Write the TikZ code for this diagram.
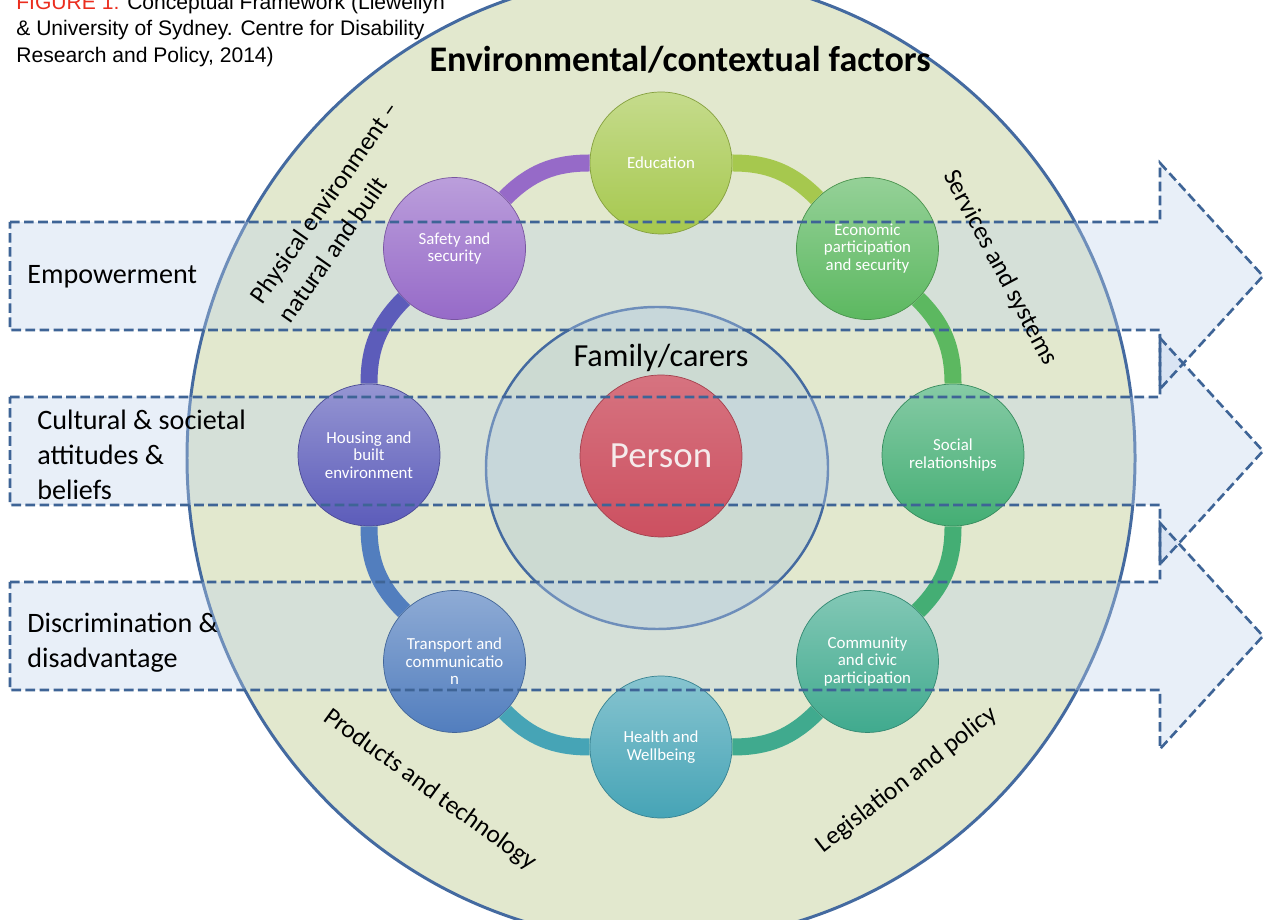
\documentclass[tikz,border=0pt]{standalone}
\usepackage{fontspec}
\setmainfont{Carlito}
\newfontfamily\capfont{Liberation Sans}
\usepackage{tikz}
\usetikzlibrary{positioning}
\definecolor{outerfill}{RGB}{226,232,206}
\definecolor{rimblue}{RGB}{68,106,160}
\definecolor{famfill}{RGB}{204,218,210}
\definecolor{bandblue}{RGB}{190,210,235}
\definecolor{dashblue}{RGB}{62,100,150}
\definecolor{figred}{RGB}{235,45,30}
\definecolor{cedu}{RGB}{166,200,78}
\definecolor{ceco}{RGB}{92,184,96}
\definecolor{csoc}{RGB}{68,174,116}
\definecolor{ccom}{RGB}{64,170,142}
\definecolor{chea}{RGB}{70,164,182}
\definecolor{ctra}{RGB}{82,126,190}
\definecolor{chou}{RGB}{92,92,186}
\definecolor{csaf}{RGB}{150,106,200}
\definecolor{cper}{RGB}{204,80,96}
\tikzset{
    topic/.style={
           circle,
           draw=#1!80!black, thin,
           top color=#1!65!white,
           bottom color=#1,
           minimum size=2.84cm,
           inner sep=1pt,
           text=white,
           align=center,
           font=\fontsize{9.6}{10}\selectfont,
           },
    link/.style={
           line width=0.34cm,
           bend left=22.5,
           },
    band/.style={
           draw=dashblue, line width=1.5pt,
           dash pattern=on 5.5pt off 2.5pt,
           },
    sidetext/.style={
           inner sep=0pt,
           align=left,
           font=\fontsize{16}{19.8}\selectfont,
           },
    rimtext/.style={
           inner sep=0pt,
           font=\fontsize{14.5}{19.5}\selectfont,
           },
}

\begin{document}
\begin{tikzpicture}[x=0.02cm,y=0.02cm]
	\useasboundingbox (0,0) rectangle (1266,919);
	\clip (0,0) rectangle (1266,919);
	\fill[white] (0,0) rectangle (1266,919);
	
	%outer and family circles
	\filldraw[fill=outerfill, draw=rimblue, line width=1.7pt] (661,461) ellipse [x radius=474, y radius=484];
	\filldraw[fill=famfill, draw=rimblue, line width=1.4pt] (657,451) ellipse [x radius=171, y radius=161];
	
	\foreach \yc in {643,468,283}
		\fill[bandblue, fill opacity=0.35] (10,\yc+54) -- (1160,\yc+54) -- (1160,\yc+113) -- (1263,\yc) -- (1160,\yc-113) -- (1160,\yc-54) -- (10,\yc-54) -- cycle;
	
	%ring of domains
	\begin{scope}[shift={(661,464)}]
	\node[topic=cedu] (edu) at (90:292) {Education};
	\node[topic=ceco] (eco) at (45:292) {Economic\\participation\\and security};
	\node[topic=csoc] (soc) at (0:292) {Social\\relationships};
	\node[topic=ccom] (com) at (-45:292) {Community\\and civic\\participation};
	\node[topic=chea] (hea) at (-90:292) {Health and\\Wellbeing};
	\node[topic=ctra] (tra) at (-135:292) {Transport and\\communicatio\\n};
	\node[topic=chou] (hou) at (180:292) {Housing and\\built\\environment};
	\node[topic=csaf] (saf) at (135:292) {Safety and\\security};
	\end{scope}
	
	\node[circle, draw=cper!80!black, thin, top color=cper!80!white, bottom color=cper, minimum size=3.24cm, text={rgb,255:red,245;green,235;blue,235}, font=\fontsize{21}{25}\selectfont] (person) at (661,463) {Person};
	\node[inner sep=0pt, above=0.05cm of person, font=\fontsize{18.3}{22}\selectfont] (fam) {Family/carers};
	
	%EDGES
	\path[link]	(edu) edge[draw=cedu] (eco)
			(eco) edge[draw=ceco] (soc)
			(soc) edge[draw=csoc] (com)
			(com) edge[draw=ccom] (hea)
			(hea) edge[draw=chea] (tra)
			(tra) edge[draw=ctra] (hou)
			(hou) edge[draw=chou] (saf)
			(saf) edge[draw=csaf] (edu);
	
	%dashed arrows
	\foreach \yc in {643,468,283}
		\draw[band] (10,\yc+54) -- (1160,\yc+54) -- (1160,\yc+113) -- (1263,\yc) -- (1160,\yc-113) -- (1160,\yc-54) -- (10,\yc-54) -- cycle;
	
	\node[sidetext, anchor=west] (emp) at (27,642) {Empowerment};
	\node[sidetext, anchor=west] (cult) at (37,464) {Cultural \& societal\\attitudes \&\\beliefs};
	\node[sidetext, anchor=west] (disc) at (27,276) {Discrimination \&\\disadvantage};
	
	\node[rimtext, rotate=55, align=left] (phys) at (338,707) {Physical environment –\\natural and built};
	\node[rimtext, rotate=-62] (serv) at (1000,651) {Services and systems};
	\node[rimtext, rotate=-36] (prod) at (430,129) {Products and technology};
	\node[rimtext, rotate=38] (legis) at (907,139) {Legislation and policy};
	
	\node[font=\bfseries\fontsize{20.5}{24}\selectfont] (title) at (680,859) {Environmental/contextual factors};
	\node[anchor=north west, inner sep=0pt, align=left, font=\capfont\fontsize{12}{15}\selectfont] (caption) at (16,925) {\textcolor{figred}{FIGURE 1:} Conceptual Framework (Llewellyn\\\& University of Sydney. Centre for Disability\\Research and Policy, 2014)};
\end{tikzpicture}
\end{document}
